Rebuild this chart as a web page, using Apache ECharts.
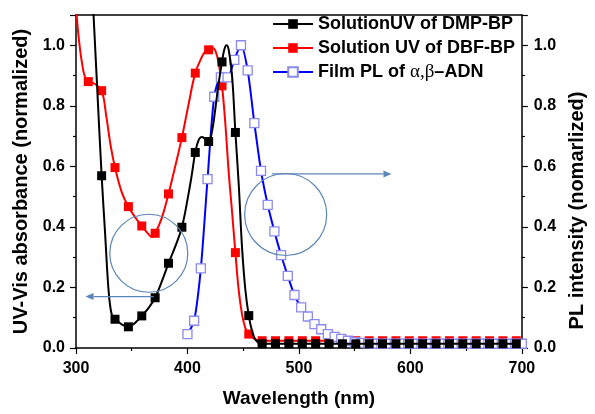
<!DOCTYPE html>
<html>
<head>
<meta charset="utf-8">
<script src="https://cdn.jsdelivr.net/npm/echarts@6/dist/echarts.min.js"></script>
<style>
  html, body { margin: 0; padding: 0; background: #fff; }
  #chart { width: 595px; height: 414px; }
</style>
</head>
<body>
<div id="chart"></div>
<script>
// ---- Solution UV absorbance: symbols every 12 nm ----
const uvMarkerNm = [311, 323, 335, 347, 359, 371, 383, 395, 407, 419, 431, 443, 455, 467,
  479, 491, 503, 515, 527, 539, 551, 563, 575, 587, 599, 611, 623, 635, 647, 659, 671, 683, 695];

const dmpMarkerVals = [1.45, 0.569, 0.095, 0.070, 0.106, 0.166, 0.280, 0.399, 0.646, 0.682, 0.945, 0.712, 0.107, 0.014,
  0.014, 0.014, 0.014, 0.014, 0.014, 0.014, 0.014, 0.014, 0.014, 0.014, 0.014, 0.014, 0.014, 0.014, 0.014, 0.014, 0.014, 0.014, 0.014];

const dbfMarkerVals = [0.880, 0.850, 0.596, 0.467, 0.403, 0.379, 0.509, 0.695, 0.908, 0.985, 0.866, 0.315, 0.046, 0.024,
  0.024, 0.024, 0.024, 0.024, 0.024, 0.024, 0.024, 0.024, 0.024, 0.024, 0.024, 0.024, 0.024, 0.024, 0.024, 0.024, 0.024, 0.024, 0.024];

// Intermediate spectrum points between the symbols (line only)
const dmpLineNm   = [319, 326, 329, 331, 333, 341, 353, 365, 377, 389, 401, 404, 410, 413, 416, 422, 425, 428, 433, 435, 437, 440, 446, 449, 452, 458, 461, 464];
const dmpLineVals = [0.86, 0.385, 0.20, 0.13, 0.10, 0.078, 0.083, 0.132, 0.220, 0.335, 0.510, 0.575, 0.687, 0.697, 0.690, 0.715, 0.790, 0.875, 0.985, 1.000, 0.985, 0.900, 0.540, 0.330, 0.190, 0.055, 0.027, 0.017];

const dbfLineNm   = [300, 302, 305, 308, 317, 327, 331, 341, 353, 365, 368, 377, 389, 401, 413, 416, 422, 425, 428, 434, 437, 440, 446, 449, 452, 460, 463];
const dbfLineVals = [1.13, 1.04, 0.95, 0.895, 0.872, 0.77, 0.67, 0.515, 0.432, 0.376, 0.367, 0.430, 0.600, 0.805, 0.962, 0.980, 0.992, 0.982, 0.940, 0.740, 0.580, 0.450, 0.190, 0.110, 0.065, 0.030, 0.026];

// ---- Film photoluminescence: symbols every 6 nm ----
const plNm = [400, 406, 412, 418, 424, 430, 436, 442, 448, 454, 460, 466, 472, 478, 484, 490, 496, 502, 508, 514,
  520, 526, 532, 538, 544, 550, 556, 562, 568, 574, 580, 586, 592, 598, 604, 610, 616, 622, 628, 634,
  640, 646, 652, 658, 664, 670, 676, 682, 688, 694, 700];
const plVals = [0.046, 0.090, 0.263, 0.558, 0.830, 0.894, 0.894, 0.952, 1.000, 0.917, 0.743, 0.585, 0.473, 0.385, 0.307, 0.238, 0.175, 0.134, 0.104, 0.079,
  0.062, 0.046, 0.037, 0.030, 0.024, 0.019, 0.017, 0.015, 0.014, 0.014, 0.014, 0.014, 0.014, 0.014, 0.014, 0.014, 0.014, 0.014, 0.014, 0.014,
  0.014, 0.014, 0.014, 0.014, 0.014, 0.014, 0.014, 0.014, 0.014, 0.014, 0.014];

const xTicks = [300, 400, 500, 600, 700];
const yTicks = [0.0, 0.2, 0.4, 0.6, 0.8, 1.0];

const seriesNames = ['SolutionUV of DMP-BP', 'Solution UV of DBF-BP', 'Film PL of \u03b1,\u03b2\u2013ADN'];

// Callouts (data coordinates): circles and arrows pointing to each axis
const calloutCenters = [[365.3, 0.313], [488.1, 0.441]];
const calloutArrows = [
  [[369.7, 0.170], [308.5, 0.170]],
  [[475.7, 0.575], [583.0, 0.575]]
];

// merge symbol points and line-only points into one sorted series
function buildSeriesData(markNm, markVals, lineNm, lineVals) {
  const pts = [];
  markNm.forEach((x, i) => pts.push({ value: [x, markVals[i]] }));
  (lineNm || []).forEach((x, i) => pts.push({ value: [x, lineVals[i]], symbol: 'none' }));
  pts.sort((a, b) => a.value[0] - b.value[0]);
  return pts;
}

const FONT = '"Liberation Sans", Arial, sans-serif';
const labelStyle = { color: '#000', fontFamily: FONT, fontWeight: 'bold', fontSize: 16 };
const titleStyle = { color: '#000', fontFamily: FONT, fontWeight: 'bold', fontSize: 20 };

const chart = echarts.init(document.getElementById('chart'), null, { renderer: 'canvas' });

function yAxisCfg(pos, name, gap, margin, namePad) {
  return {
    type: 'value', position: pos, min: 0, max: 1.1, interval: 0.2,
    name: name, nameLocation: 'middle', nameRotate: 90,
    nameGap: gap, nameTextStyle: { ...titleStyle, padding: namePad },
    axisLine: { show: true, onZero: false, lineStyle: { color: '#000', width: 1.5 } },
    axisTick: { show: true, length: 6, lineStyle: { color: '#000', width: 1.2 } },
    minorTick: { show: true, splitNumber: 2, length: 3, lineStyle: { color: '#000', width: 1.2 } },
    axisLabel: {
      ...labelStyle, margin: margin,
      formatter: v => (yTicks.some(t => Math.abs(t - v) < 1e-6) ? v.toFixed(1) : '')
    },
    splitLine: { show: false }
  };
}

const option = {
  animation: false,
  backgroundColor: '#fff',
  grid: { left: 76, right: 66, top: 15, bottom: 66, containLabel: false },
  xAxis: [
    {
      type: 'value', min: 300, max: 700, interval: 100,
      name: 'Wavelength (nm)', nameLocation: 'middle', nameGap: 41,
      nameTextStyle: { ...titleStyle, fontSize: 19 },
      axisLine: { onZero: false, lineStyle: { color: '#000', width: 1.5 } },
      axisTick: { length: 6, lineStyle: { color: '#000', width: 1.2 } },
      minorTick: { show: true, splitNumber: 2, length: 3, lineStyle: { color: '#000', width: 1.2 } },
      axisLabel: {
        ...labelStyle, margin: 13,
        formatter: v => (xTicks.indexOf(v) >= 0 ? String(v) : '')
      },
      splitLine: { show: false }
    },
    {
      type: 'value', position: 'top', min: 300, max: 700,
      axisLine: { onZero: false, lineStyle: { color: '#000', width: 1.5 } },
      axisTick: { show: false }, axisLabel: { show: false }, splitLine: { show: false }
    }
  ],
  yAxis: [
    yAxisCfg('left', 'UV-Vis absorbance (normalized)', 45, 11, 0),
    yAxisCfg('right', 'PL intensity (nomarlized)', 43, 12, [0, 58, 0, 0])
  ],
  legend: {
    orient: 'vertical', left: 267, top: 9,
    itemWidth: 40, itemHeight: 12, itemGap: 4,
    data: seriesNames,
    textStyle: {
      color: '#000', fontFamily: FONT, fontWeight: 'bold', fontSize: 18, lineHeight: 20,
      rich: {
        t: { color: '#000', fontFamily: FONT, fontWeight: 'bold', fontSize: 18 },
        g: { color: '#000', fontFamily: '"Liberation Serif", serif', fontWeight: 'normal', fontSize: 19 }
      }
    },
    formatter: name => (name === seriesNames[2] ? '{t|Film PL of }{g|\u03b1,\u03b2}{t|\u2013ADN}' : name)
  },
  series: [
    {
      name: seriesNames[1], type: 'line', xAxisIndex: 0, yAxisIndex: 0,
      data: buildSeriesData(uvMarkerNm, dbfMarkerVals, dbfLineNm, dbfLineVals),
      smooth: 0.4, showAllSymbol: true, symbol: 'rect', symbolSize: 9, clip: true,
      lineStyle: { color: '#ff0000', width: 2 },
      itemStyle: { color: '#ff0000' }, z: 2
    },
    {
      name: seriesNames[0], type: 'line', xAxisIndex: 0, yAxisIndex: 0,
      data: buildSeriesData(uvMarkerNm, dmpMarkerVals, dmpLineNm, dmpLineVals),
      smooth: 0.4, showAllSymbol: true, symbol: 'rect', symbolSize: 9, clip: true,
      lineStyle: { color: '#000000', width: 2 },
      itemStyle: { color: '#000000' }, z: 5
    },
    {
      name: seriesNames[2], type: 'line', xAxisIndex: 0, yAxisIndex: 1,
      data: buildSeriesData(plNm, plVals),
      smooth: 0.25, showAllSymbol: true, symbol: 'rect', symbolSize: 9, clip: true,
      lineStyle: { color: '#0000ff', width: 2 },
      itemStyle: { color: '#ffffff', borderColor: '#8a8af0', borderWidth: 1.3 }, z: 4
    }
  ]
};

chart.setOption(option);

// callout circles and arrows, placed through the axis scales
const calloutColor = '#5b86b8';
const calloutRadius = [39, 41];
const graphics = [];
calloutCenters.forEach((c, i) => {
  const p = chart.convertToPixel({ xAxisIndex: 0, yAxisIndex: 0 }, c);
  graphics.push({
    type: 'circle', z: 100, silent: true,
    shape: { cx: p[0], cy: p[1], r: calloutRadius[i] },
    style: { fill: 'none', stroke: calloutColor, lineWidth: 1.2 }
  });
});
calloutArrows.forEach(a => {
  const s = chart.convertToPixel({ xAxisIndex: 0, yAxisIndex: 0 }, a[0]);
  const e = chart.convertToPixel({ xAxisIndex: 0, yAxisIndex: 0 }, a[1]);
  const dir = Math.sign(e[0] - s[0]);
  const head = 8, half = 3.5;
  graphics.push({
    type: 'line', z: 100, silent: true,
    shape: { x1: s[0], y1: s[1], x2: e[0] - dir * head, y2: e[1] },
    style: { stroke: calloutColor, lineWidth: 1.3 }
  });
  graphics.push({
    type: 'polygon', z: 100, silent: true,
    shape: { points: [[e[0], e[1]], [e[0] - dir * head, e[1] - half], [e[0] - dir * head, e[1] + half]] },
    style: { fill: calloutColor }
  });
});
chart.setOption({ graphic: graphics });
</script>
</body>
</html>
